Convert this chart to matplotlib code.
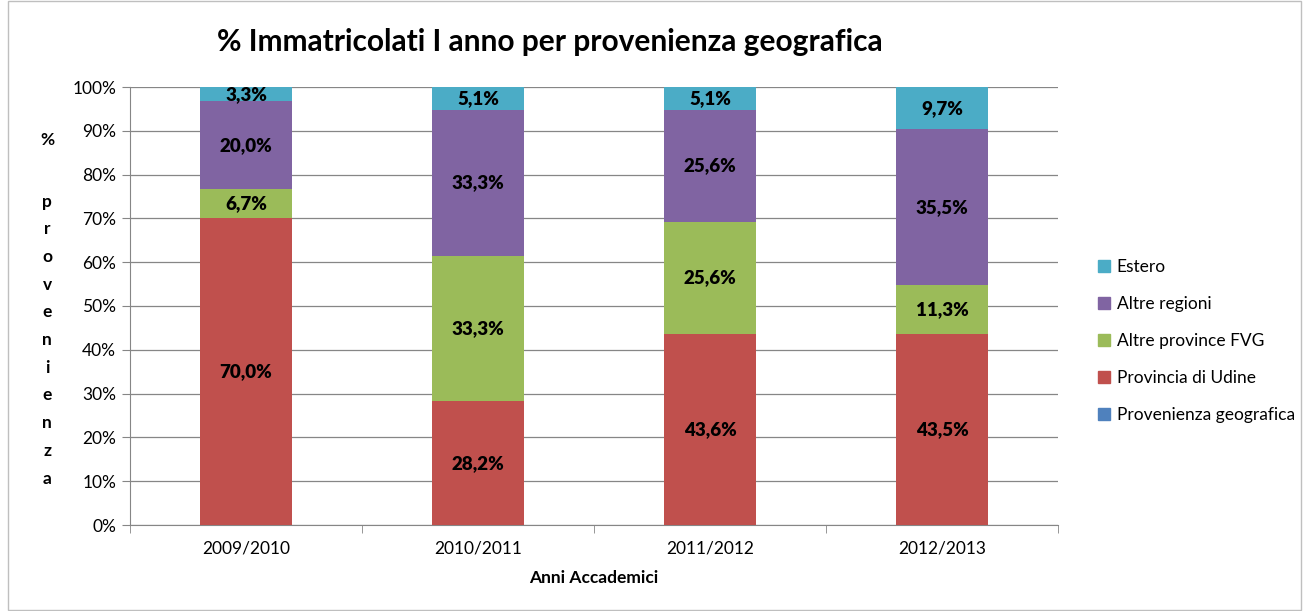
import matplotlib
matplotlib.use("Agg")
import matplotlib.pyplot as plt
from matplotlib.patches import Rectangle, Patch
import numpy as np

plt.rcParams['font.family'] = ['Lato', 'DejaVu Sans']

years = ["2009/2010", "2010/2011", "2011/2012", "2012/2013"]
provenienza = [0.0, 0.0, 0.0, 0.0]
udine = [70.0, 28.2, 43.6, 43.5]
fvg = [6.7, 33.3, 25.6, 11.3]
regioni = [20.0, 33.3, 25.6, 35.5]
estero = [3.3, 5.1, 5.1, 9.7]

series = [
    ("Provenienza geografica", provenienza, "#4F81BD"),
    ("Provincia di Udine", udine, "#C0504D"),
    ("Altre province FVG", fvg, "#9BBB59"),
    ("Altre regioni", regioni, "#8064A2"),
    ("Estero", estero, "#4BACC6"),
]

fig = plt.figure(figsize=(13.03, 6.11), dpi=100)
ax = fig.add_axes([130/1303, 1-525/611, (1058-130)/1303, (525-87)/611])

x = np.arange(len(years))
bottom = np.zeros(len(years))
for name, vals, col in series:
    vals = np.array(vals)
    ax.bar(x, vals, 0.4, bottom=bottom, color=col, zorder=3, label=name)
    for xi, v, b in zip(x, vals, bottom):
        if v > 0:
            ax.text(xi, b + v/2, f"{v:.1f}%".replace(".", ","), ha="center", va="center",
                    fontsize=13.5, fontweight="heavy", color="black", zorder=4)
    bottom = bottom + vals

ax.set_xlim(-0.5, 3.5)
ax.set_ylim(0, 100)
ax.set_yticks(np.arange(0, 101, 10))
ax.set_yticklabels([f"{v}%" for v in range(0, 101, 10)], fontsize=12.5)
ax.yaxis.grid(True, color="#868686", linewidth=0.9, zorder=0)
ax.set_xticks(x)
ax.set_xticklabels(years, fontsize=12.5)
ax.set_xticks(np.arange(-0.5, 4, 1), minor=True)
ax.tick_params(axis="x", which="major", length=0, pad=11)
ax.tick_params(axis="x", which="minor", length=6, color="#868686", direction="out")
ax.tick_params(axis="y", length=6, color="#868686", direction="out", pad=4)
for s in ["top", "right"]:
    ax.spines[s].set_visible(False)
for s in ["left", "bottom"]:
    ax.spines[s].set_color("#868686")
ax.set_xlabel("Anni Accademici", fontsize=12.5, fontweight="bold", labelpad=10)

fig.text(550/1303, 1-42/611, "% Immatricolati I anno per provenienza geografica",
         ha="center", va="center", fontsize=21.5, fontweight="bold")

fig.text(47/1303, 1-140/611, "%", ha="center", va="center", fontsize=12.5, fontweight="bold")
fig.text(47/1303, 1-340/611, "\n".join("provenienza"), ha="center", va="center",
         fontsize=12.5, fontweight="bold", linespacing=1.9)

handles = [Patch(color=c, label=n) for n, _, c in series][::-1]
fig.legend(handles=handles, loc="center left", bbox_to_anchor=(1082/1303, 1-341/611),
           frameon=False, fontsize=12.5, handlelength=0.7, handleheight=0.7,
           handletextpad=0.4, labelspacing=1.2)

fig.patches.append(Rectangle((8/1303, 0.002), 1-10/1303, 0.996, transform=fig.transFigure,
                             fill=False, edgecolor="#BFBFBF", linewidth=1))

fig.savefig("out.png", dpi=100)
